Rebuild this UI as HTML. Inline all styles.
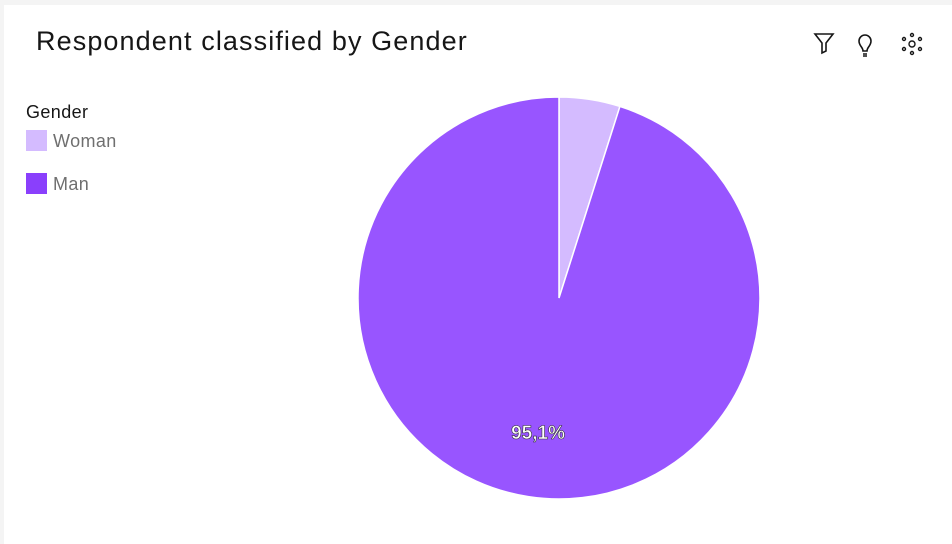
<!DOCTYPE html>
<html><head><meta charset="utf-8"><style>
html,body{margin:0;padding:0;background:#f4f4f4;}
body{width:952px;height:544px;position:relative;overflow:hidden;font-family:"Liberation Sans",sans-serif;}
#card{position:absolute;left:4px;top:5px;width:948px;height:539px;background:#fff;}
#title{position:absolute;left:32px;top:21px;font-size:27px;color:#161616;letter-spacing:1.1px;}
.leg{position:absolute;left:22px;font-size:18px;color:#6f6f6f;letter-spacing:0.4px;}
.sw{display:inline-block;width:21px;height:21px;vertical-align:-4px;margin-right:6px;}
</style></head><body>
<div id="card">
<div id="title">Respondent classified by Gender</div>
<svg style="position:absolute;left:800px;top:22px" width="130" height="36">
<g fill="none" stroke="#161616" stroke-width="1.6"><path d="M11 7h18l-7 9v8l-4 2v-10z"/></g>
<g fill="none" stroke="#161616" stroke-width="1.6"><path d="M59 24c0-4-4-5-4-10a6 6 0 0 1 12 0c0 5-4 6-4 10z"/><path d="M59 27h4M59 29h4"/></g>
<g fill="none" stroke="#161616" stroke-width="1.4"><circle cx="108" cy="17" r="3"/><circle cx="108" cy="8" r="1.5"/><circle cx="108" cy="26" r="1.5"/><circle cx="100" cy="12" r="1.5"/><circle cx="116" cy="12" r="1.5"/><circle cx="100" cy="22" r="1.5"/><circle cx="116" cy="22" r="1.5"/></g>
</svg>
<div class="leg" style="top:97px;color:#161616">Gender</div>
<div class="leg" style="top:125px"><span class="sw" style="background:#d4bbff"></span>Woman</div>
<div class="leg" style="top:168px"><span class="sw" style="background:#8a3ffc"></span>Man</div>
</div>
<svg id="pie" style="position:absolute;left:0;top:0" width="952" height="544"></svg>
<script>
const categories=["Woman","Man"];
const values=[4.9,95.1];
const labels=["","95,1%"];
const colors=["#d4bbff","#9855ff"];
const cx=559,cy=298,r=201;
const svg=document.getElementById('pie');
const total=values.reduce((a,b)=>a+b,0);
let a0=0;
function pt(a,rr){return [cx+rr*Math.sin(a),cy-rr*Math.cos(a)];}
values.forEach((v,i)=>{
 const a1=a0+v/total*2*Math.PI;
 const p0=pt(a0,r),p1=pt(a1,r);
 const large=(a1-a0)>Math.PI?1:0;
 const path=document.createElementNS('http://www.w3.org/2000/svg','path');
 path.setAttribute('d',`M${cx},${cy}L${p0[0]},${p0[1]}A${r},${r} 0 ${large} 1 ${p1[0]},${p1[1]}Z`);
 path.setAttribute('fill',colors[i]);path.setAttribute('stroke','#fff');path.setAttribute('stroke-width','1.5');
 
 
 svg.appendChild(path);
 if(labels[i]){
  const m=(a0+a1)/2,lp=pt(m,r*0.68);
  const t=document.createElementNS('http://www.w3.org/2000/svg','text');
  t.setAttribute('x',lp[0]);t.setAttribute('y',lp[1]+6);t.setAttribute('text-anchor','middle');
  t.setAttribute('font-size','19');t.setAttribute('font-weight','bold');t.setAttribute('fill','#fff');
  t.setAttribute('stroke','#333');t.setAttribute('stroke-width','0.6');t.setAttribute('font-family','Liberation Sans, sans-serif');
  
  
  t.textContent=labels[i];svg.appendChild(t);
 }
 a0=a1;
});
</script>
</body></html>
